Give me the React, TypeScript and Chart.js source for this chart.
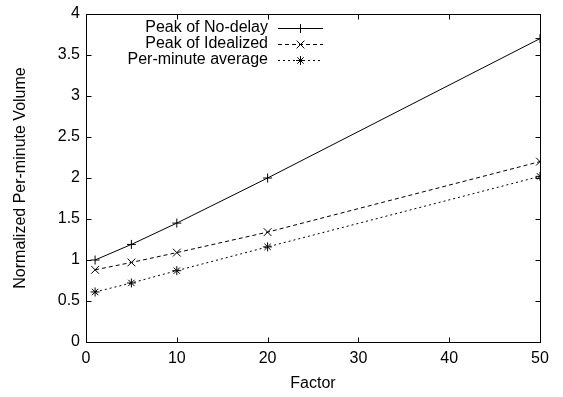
import React, { useEffect, useRef } from "react";
import { Chart, registerables } from "chart.js";

Chart.register(...registerables);

// ---- data ----
const factors = [1, 5, 10, 20, 50];
const peakNoDelay = [1.0, 1.19, 1.45, 2.0, 3.7];
const peakIdealized = [0.88, 0.97, 1.09, 1.34, 2.2];
const perMinuteAverage = [0.61, 0.72, 0.87, 1.16, 2.02];
const seriesNames = ["Peak of No-delay", "Peak of Idealized", "Per-minute average"];
const xTickValues = [0, 10, 20, 30, 40, 50];
const yTickValues = [0, 0.5, 1, 1.5, 2, 2.5, 3, 3.5, 4];
const xTitle = "Factor";
const yTitle = "Normalized Per-minute Volume";

const FONT = "'Liberation Sans', Arial, Helvetica, sans-serif";
const FONT_SIZE = 16;

function drawMarker(ctx: CanvasRenderingContext2D, style: string, x: number, y: number, r: number) {
  ctx.beginPath();
  if (style === "cross" || style === "star") {
    ctx.moveTo(x - r, y);
    ctx.lineTo(x + r, y);
    ctx.moveTo(x, y - r);
    ctx.lineTo(x, y + r);
  }
  if (style === "crossRot" || style === "star") {
    const o = r * Math.SQRT1_2;
    ctx.moveTo(x - o, y - o);
    ctx.lineTo(x + o, y + o);
    ctx.moveTo(x - o, y + o);
    ctx.lineTo(x + o, y - o);
  }
  ctx.stroke();
}

const framePlugin = {
  id: "gnuFrame",
  afterDraw(chart: any) {
    const { ctx, chartArea: a, scales } = chart;
    ctx.save();
    ctx.strokeStyle = "#000";
    ctx.lineWidth = 1;
    ctx.setLineDash([]);
    const L = Math.round(a.left) + 0.5;
    const R = Math.round(a.right) + 0.5;
    const T = Math.round(a.top) + 0.5;
    const B = Math.round(a.bottom) + 0.5;
    ctx.strokeRect(L, T, R - L, B - T);
    const tl = 5;
    ctx.beginPath();
    for (const v of xTickValues) {
      const px = Math.round(scales.x.getPixelForValue(v)) + 0.5;
      ctx.moveTo(px, B);
      ctx.lineTo(px, B - tl);
      ctx.moveTo(px, T);
      ctx.lineTo(px, T + tl);
    }
    for (const v of yTickValues) {
      const py = Math.round(scales.y.getPixelForValue(v)) + 0.5;
      ctx.moveTo(L, py);
      ctx.lineTo(L + tl, py);
      ctx.moveTo(R, py);
      ctx.lineTo(R - tl, py);
    }
    ctx.stroke();

    // gnuplot-style key
    const textRight = a.left + 182;
    const lineStart = a.left + 192;
    const lineEnd = a.left + 237;
    ctx.font = `${FONT_SIZE}px ${FONT}`;
    ctx.fillStyle = "#000";
    ctx.textAlign = "right";
    ctx.textBaseline = "middle";
    chart.data.datasets.forEach((ds: any, i: number) => {
      const y = a.top + 14 + i * 16;
      ctx.fillText(ds.label, textRight, y);
      ctx.setLineDash(ds.borderDash || []);
      ctx.beginPath();
      ctx.moveTo(lineStart, Math.round(y) + 0.5);
      ctx.lineTo(lineEnd, Math.round(y) + 0.5);
      ctx.stroke();
      ctx.setLineDash([]);
      drawMarker(ctx, ds.pointStyle, (lineStart + lineEnd) / 2, Math.round(y) + 0.5, ds.pointRadius);
    });
    ctx.restore();
  },
};

export default function App() {
  const ref = useRef<HTMLCanvasElement | null>(null);
  useEffect(() => {
    if (!ref.current) return;
    const mk = (vals: number[]) => factors.map((f, i) => ({ x: f, y: vals[i] }));
    const base = {
      borderColor: "#000",
      backgroundColor: "#000",
      pointBorderColor: "#000",
      borderWidth: 1,
      pointBorderWidth: 1,
      fill: false,
      tension: 0,
    };
    const chart = new Chart(ref.current, {
      type: "line",
      data: {
        datasets: [
          { ...base, label: seriesNames[0], data: mk(peakNoDelay), pointStyle: "cross", pointRadius: 4.5, borderDash: [] },
          { ...base, label: seriesNames[1], data: mk(peakIdealized), pointStyle: "crossRot", pointRadius: 5.5, borderDash: [4, 3] },
          { ...base, label: seriesNames[2], data: mk(perMinuteAverage), pointStyle: "star", pointRadius: 4.5, borderDash: [2, 3] },
        ],
      },
      options: {
        animation: false,
        responsive: true,
        maintainAspectRatio: false,
        layout: { padding: { top: 9, right: 23, left: 0, bottom: 0 } },
        plugins: { legend: { display: false }, tooltip: { enabled: false } },
        scales: {
          x: {
            type: "linear",
            min: 0,
            max: 50,
            afterBuildTicks: (s: any) => {
              s.ticks = xTickValues.map((v) => ({ value: v }));
            },
            ticks: {
              color: "#000",
              font: { family: FONT, size: FONT_SIZE, lineHeight: 1 },
              padding: 9,
              maxRotation: 0,
              callback: (v: any) => String(v),
            },
            grid: { display: false, drawTicks: false },
            border: { display: false },
            title: {
              display: true,
              text: xTitle,
              color: "#000",
              font: { family: FONT, size: FONT_SIZE, lineHeight: 1.2 },
              padding: { top: 0, bottom: 4 },
            },
            afterFit: (s: any) => {
              s.height = 55;
            },
          },
          y: {
            type: "linear",
            min: 0,
            max: 4,
            afterBuildTicks: (s: any) => {
              s.ticks = yTickValues.map((v) => ({ value: v }));
            },
            ticks: {
              color: "#000",
              font: { family: FONT, size: FONT_SIZE, lineHeight: 1 },
              padding: 6,
              callback: (v: any) => String(v),
            },
            grid: { display: false, drawTicks: false },
            border: { display: false },
            title: {
              display: true,
              text: yTitle,
              color: "#000",
              font: { family: FONT, size: FONT_SIZE, lineHeight: 1.2 },
              padding: { top: 11, bottom: 0 },
            },
            afterFit: (s: any) => {
              s.width = 86;
            },
          },
        },
      },
      plugins: [framePlugin],
    });
    return () => chart.destroy();
  }, []);
  return (
    <div style={{ position: "fixed", left: 0, top: 0, width: 563, height: 397, background: "#fff" }}>
      <canvas ref={ref} />
    </div>
  );
}
